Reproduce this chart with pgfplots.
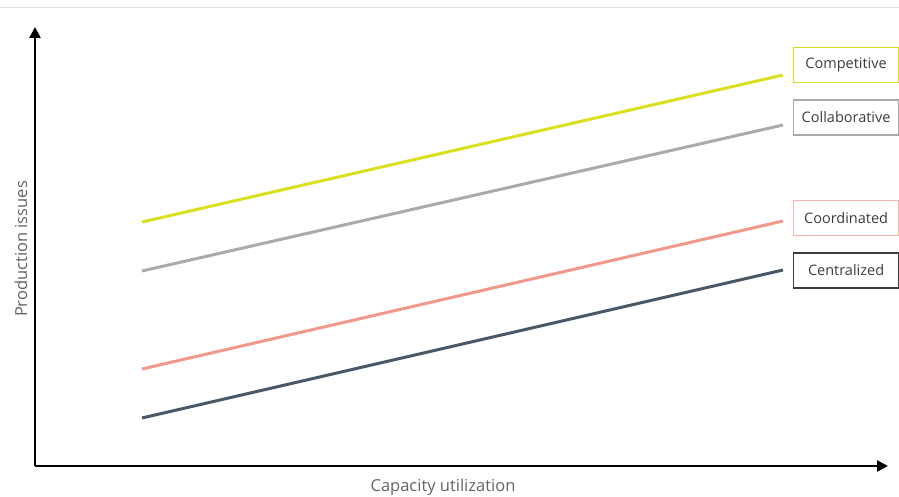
\documentclass[border=0pt]{standalone}
\usepackage{pgfplots}
\pgfplotsset{compat=1.18}
\usepackage{fontspec}
\setmainfont{Open Sans}
\usetikzlibrary{arrows.meta}

\definecolor{compcol}{RGB}{218,224,30}
\definecolor{collcol}{RGB}{170,170,170}
\definecolor{coorcol}{RGB}{242,152,138}
\definecolor{centcol}{RGB}{72,88,102}
\definecolor{labelgray}{RGB}{100,100,100}
\definecolor{textgray}{RGB}{60,60,60}

\begin{document}
\begin{tikzpicture}
\begin{axis}[
  width=853pt, height=439pt, scale only axis,
  xmin=35, xmax=888, ymin=31, ymax=470,
  axis lines=left,
  axis line style={line width=2.4pt, -{Triangle[length=11pt,width=11pt]}},
  xtick=\empty, ytick=\empty,
  clip=false,
]
% lines (x in px, y = 497 - px)
\addplot[compcol, line width=3pt] coordinates {(142,275) (783,422)};
\addplot[collcol, line width=3pt] coordinates {(142,226) (783,372)};
\addplot[coorcol, line width=3pt] coordinates {(142,128) (783,276)};
\addplot[centcol, line width=3pt] coordinates {(142,79) (783,227)};

% labels in boxes
\tikzset{lbl/.style={line width=1.2pt, minimum width=105pt, minimum height=35pt, anchor=west, text=textgray, font=\fontsize{14.5}{17}\selectfont}}
\node[lbl, draw=compcol] at (axis cs:793,432) {Competitive};
\node[lbl, draw=collcol] at (axis cs:793,379.5) {Collaborative};
\node[lbl, draw=coorcol!70] at (axis cs:793,279) {Coordinated};
\node[lbl, draw=textgray] at (axis cs:793,226.5) {Centralized};

% axis titles
\node[text=labelgray, font=\fontsize{16.5}{19}\selectfont] at (axis cs:443,10) {Capacity utilization};
\node[text=labelgray, rotate=90, font=\fontsize{16.5}{19}\selectfont] at (axis cs:21,248) {Production issues};

% top rule
\draw[black!12, line width=1pt] (axis cs:0,489) -- (axis cs:899,489);

\coordinate (bl) at (axis cs:0,0);
\coordinate (tr) at (axis cs:899,497);
\end{axis}
\pgfresetboundingbox
\path[use as bounding box] (bl) rectangle (tr);
\end{tikzpicture}
\end{document}
